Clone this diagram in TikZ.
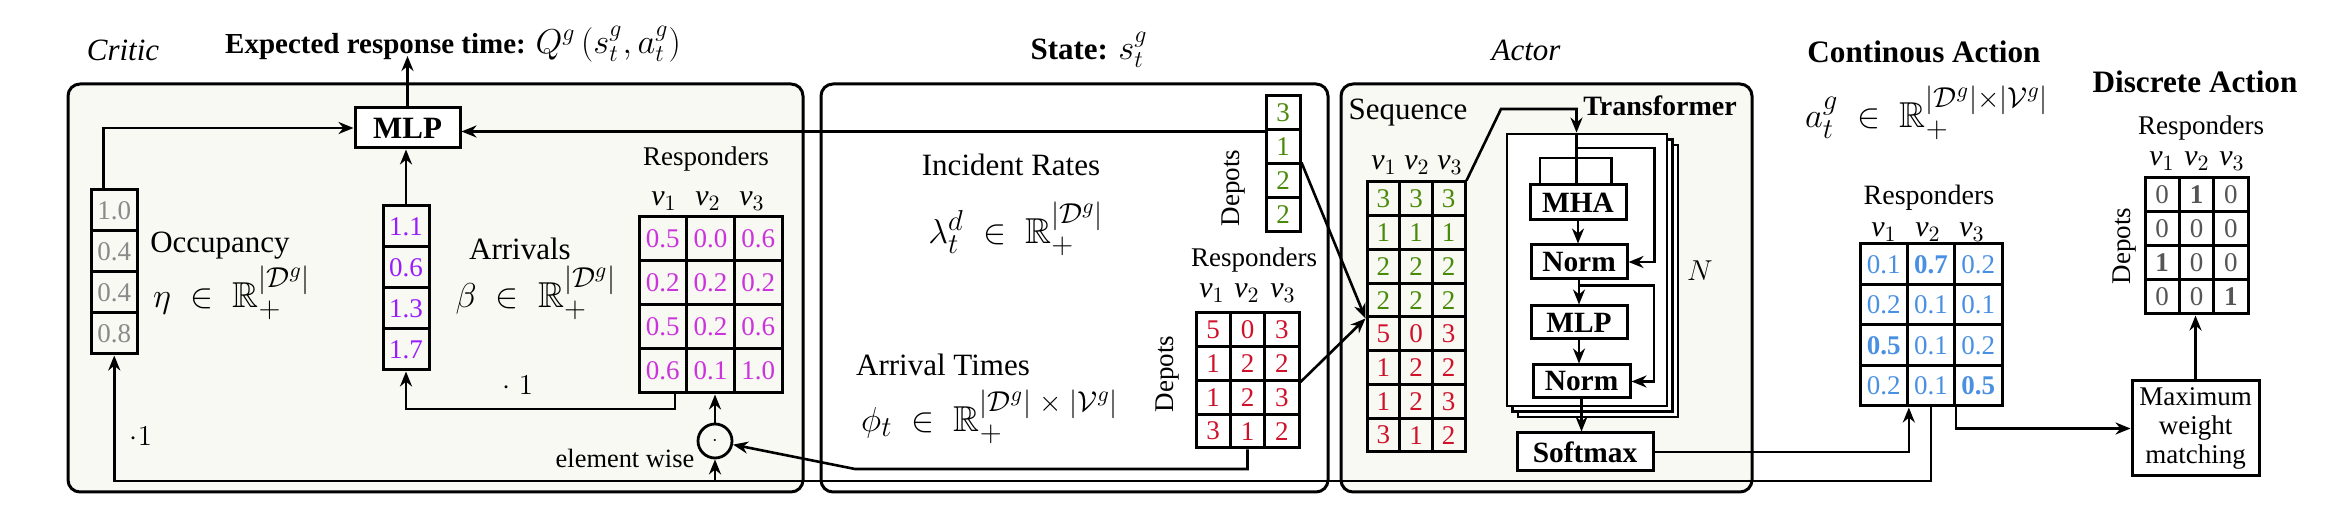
\documentclass[tikz,border=0pt]{standalone}
\usepackage{amsmath,amssymb}
\usepackage{fontspec}
\setmainfont{Liberation Serif}
\usetikzlibrary{arrows.meta,calc}
\DeclareMathSizes{16}{16}{13}{10}
\DeclareMathSizes{18}{18}{14.5}{11}
\definecolor{panelfill}{HTML}{F7F9F2}
\definecolor{occgray}{HTML}{8A8A8A}
\definecolor{arrpurple}{HTML}{9B1BFF}
\definecolor{resmag}{HTML}{CC33DD}
\definecolor{depgreen}{HTML}{4A8A0A}
\definecolor{atred}{HTML}{D0112B}
\definecolor{actblue}{HTML}{4A90E2}
\definecolor{discgray}{HTML}{555555}
\newcommand{\fs}[1]{\fontsize{#1}{#1}\selectfont}
% name, x0, y0, cell w, cell h, colour, rows
\newcommand{\gridmat}[7]{%
  \foreach \rowlist [count=\rr] in {#7} {
    \foreach \val [count=\cc] in \rowlist {
      \node[cell, minimum width={#4*0.5pt}, minimum height={#5*0.5pt}, text=#6]
        (#1-\rr-\cc) at ({#2+(\cc-0.5)*#4},{#3+(\rr-0.5)*#5}) {\val};
    }
  }%
}
\begin{document}
\begin{tikzpicture}[x=0.5pt,y=-0.5pt,
  panel/.style={draw, line width=1.5pt, rounded corners=6pt},
  cell/.style={draw, line width=1.5pt, inner sep=0pt, font=\fs{13.5}},
  box/.style={draw, line width=1.5pt, fill=white, inner sep=0pt, font=\bfseries\fs{14.7}},
  arr/.style={line width=1.3pt, -{Stealth[length=7.5pt,width=6pt]}},
  ln/.style={line width=1.3pt},
  lab/.style={font=\fs{15.5}},
  small/.style={font=\fs{13.5}},
  vlab/.style={font=\fs{15}},
  frm/.style={font=\fs{18}},
  ttl/.style={font=\bfseries\fs{15.6}}
  ]
\useasboundingbox (0,0) rectangle (2338,528);

% ---------------- panels
\draw[panel, fill=panelfill] (68,84) rectangle (803,492);
\draw[panel, fill=white] (821,84) rectangle (1328,492);
\draw[panel, fill=panelfill] (1341,84) rectangle (1752,492);

% ---------------- titles
\node[font=\itshape\fs{15.5}] (critictitle) at (123,50) {Critic};
\node[font=\fs{14.5}] (qtitle) at (453,44) {\textbf{Expected response time:} {\fs{16}$Q^g\left(s^g_t, a^g_t\right)$}};
\node[font=\fs{15.5}] (statetitle) at (1089,50) {\textbf{State:} {\fs{16}$s^g_t$}};
\node[font=\itshape\fs{15.5}] (actortitle) at (1526,50) {Actor};
\node[ttl] (conttitle) at (1924,52) {Continous Action};
\node[frm] (contf) at (1927,113) {$a^g_t \;\in\; \mathbb{R}_+^{|\mathcal{D}^g|\times|\mathcal{V}^g|}$};
\node[ttl] (disctitle) at (2195,82) {Discrete Action};

% ---------------- critic
\node[box, minimum width=52.5pt, minimum height=20pt, font=\bfseries\fs{15.5}] (mlp) at (407.5,128) {MLP};
\coordinate (qout) at (407.5,56);
\draw[arr] (mlp.north) -- (qout);

\gridmat{occ}{91.5}{190}{45.5}{41}{occgray}{{1.0},{0.4},{0.4},{0.8}}
\draw[arr] ([xshift=-5.5pt]occ-1-1.north) |- (mlp.west);
\node[lab] (occlab) at (220,246) {Occupancy};
\node[frm] (occf) at (232,293) {$\eta \;\in\; \mathbb{R}_+^{|\mathcal{D}^g|}$};

\gridmat{arv}{383}{206}{46}{41}{arrpurple}{{1.1},{0.6},{1.3},{1.7}}
\draw[arr] (arv-1-1.north) -- (arv-1-1.north |- mlp.south);
\node[lab] (arvlab) at (520,249) {Arrivals};
\node[frm] (arvf) at (536,293) {$\beta \;\in\; \mathbb{R}_+^{|\mathcal{D}^g|}$};

\gridmat{crm}{639}{217}{47.67}{44}{resmag}{{0.5,0.0,0.6},{0.2,0.2,0.2},{0.5,0.2,0.6},{0.6,0.1,1.0}}
\node[small] (crresp) at (706,159) {Responders};
\node[vlab] (crv1) at (664,201) {$\mathit{v}_1$};
\node[vlab] (crv2) at (708,201) {$\mathit{v}_2$};
\node[vlab] (crv3) at (752,201) {$\mathit{v}_3$};
\coordinate (crturn) at (406,409);
\draw[arr] ([xshift=6pt]crm-4-1.south) |- (crturn) -- (arv-4-1.south);
\node[small] (dotone) at (518,385) {$\cdot\;1$};

\node[draw, circle, line width=1.4pt, minimum size=17pt, inner sep=0pt, fill=panelfill] (odot) at (715,441) {$\cdot$};
\draw[arr] (odot.north) -- (odot.north |- crm-4-2.south);
\node[font=\fs{13.2}] (ew) at (625,458) {element wise};
\node[small] (dottwo) at (141,436) {$\cdot 1$};

% ---------------- state
\gridmat{dv}{1266}{96}{34}{34}{depgreen}{{3},{1},{2},{2}}
\node[small, rotate=90] (dvdep) at (1234,188) {Depots};
\draw[arr] (dv-1-1.south west) -- (dv-1-1.south west -| mlp.east);
\node[lab] (irlab) at (1011,165) {Incident Rates};
\node[frm] (irf) at (1016,229) {$\lambda^d_t \;\in\; \mathbb{R}_+^{|\mathcal{D}^g|}$};

\gridmat{am}{1196}{313}{34.33}{33.75}{atred}{{5,0,3},{1,2,2},{1,2,3},{3,1,2}}
\node[small] (amresp) at (1254,260) {Responders};
\node[vlab] (amv1) at (1212,293) {$\mathit{v}_1$};
\node[vlab] (amv2) at (1247,293) {$\mathit{v}_2$};
\node[vlab] (amv3) at (1283,293) {$\mathit{v}_3$};
\node[small, rotate=90] (amdep) at (1168,374) {Depots};
\node[lab] (atlab) at (943,365) {Arrival Times};
\node[frm] (atf) at (990,417) {$\phi_t \;\in\; \mathbb{R}_+^{|\mathcal{D}^g|\;\times\;|\mathcal{V}^g|}$};
\coordinate (amturn) at (855,469);
\draw[arr] (am-4-2.south) |- (amturn) -- (odot);

% ---------------- actor
\node[lab] (seqlab) at (1408,113) {Sequence};
\node[vlab] (sqv1) at (1384,165) {$\mathit{v}_1$};
\node[vlab] (sqv2) at (1417,165) {$\mathit{v}_2$};
\node[vlab] (sqv3) at (1450,165) {$\mathit{v}_3$};
\gridmat{seq}{1367}{182}{32.67}{33.75}{depgreen}{{3,3,3},{1,1,1},{2,2,2},{2,2,2}}
\gridmat{seqb}{1367}{317}{32.67}{33.75}{atred}{{5,0,3},{1,2,2},{1,2,3},{3,1,2}}
\draw[arr] (dv-3-1.north east) -- (seq-4-1.south west);
\draw[arr] (am-2-3.south east) -- (seq-4-1.south west);

\node[draw, line width=1.3pt, fill=white, minimum width=80pt, minimum height=136pt, inner sep=0pt] (tf3) at (1598,281) {};
\node[draw, line width=1.3pt, fill=white, minimum width=80pt, minimum height=136pt, inner sep=0pt] (tf2) at (1592.5,275.5) {};
\node[draw, line width=1.4pt, fill=white, minimum width=80pt, minimum height=136pt, inner sep=0pt] (tf) at (1587,270) {};
\node[font=\bfseries\fs{14}] (tftitle) at (1660,106) {Transformer};
\node[font=\fs{14}] (nlab) at (1700,271) {$N$};

\coordinate (tfk1) at (1501,109);
\coordinate (tfk2) at (1576.5,109);
\draw[arr] (seq-1-3.north east) -- (tfk1) -- (tfk2) -- (tfk2 |- tf.north);

\node[box, minimum width=48pt, minimum height=17.5pt] (mha) at (1578,202.5) {MHA};
\node[box, minimum width=48pt, minimum height=17pt] (norma) at (1579,262) {Norm};
\node[box, minimum width=48pt, minimum height=16.5pt] (mlpb) at (1579,322.5) {MLP};
\node[box, minimum width=48.5pt, minimum height=16.5pt] (normb) at (1581.5,381.5) {Norm};
\node[box, minimum width=68pt, minimum height=19pt] (softmax) at (1585,452) {Softmax};

\draw[ln] (tfk2 |- tf.north) -- (tfk2 |- mha.north);
\coordinate (bra) at (1540,158);
\coordinate (brb) at (1611.6,158);
\draw[ln] (bra |- mha.north) -- (bra) -- (brb) -- (brb |- mha.north);
\coordinate (resa) at (1576.5,148);
\coordinate (resb) at (1654.6,148);
\draw[arr] (resa) -- (resb) |- (norma.east);
\draw[arr] (mha.south) -- (mha.south |- norma.north);
\draw[arr] (norma.south) -- (norma.south |- mlpb.north);
\coordinate (resc) at (1579,285.5);
\coordinate (resd) at (1654,285.5);
\draw[arr] (resc) -- (resd) |- (normb.east);
\draw[arr] (mlpb.south) -- (mlpb.south |- normb.north);
\draw[arr] (normb.south) -- (normb.south |- softmax.north);

% ---------------- continuous action
\gridmat{cam}{1860}{244}{47.33}{40.5}{actblue}{{0.1,\textbf{0.7},0.2},{0.2,0.1,0.1},{\textbf{0.5},0.1,0.2},{0.2,0.1,\textbf{0.5}}}
\node[font=\fs{14}] (caresp) at (1929,198) {Responders};
\node[vlab] (cav1) at (1884,232) {$\mathit{v}_1$};
\node[vlab] (cav2) at (1928,232) {$\mathit{v}_2$};
\node[vlab] (cav3) at (1972,232) {$\mathit{v}_3$};
\draw[arr] (softmax.east) -| (cam-4-1.south east);

\node[draw, line width=1.5pt, minimum width=63.5pt, minimum height=47.5pt, inner sep=0pt, align=center, font=\fontsize{13.5}{14.3}\selectfont] (mwm) at (2195.5,428.5) {Maximum\\weight\\matching};
\draw[arr] (cam-4-2.south east) |- (mwm.west);

% bus from continuous action back to critic
\coordinate (bus) at (715,481);
\draw[arr] (cam-4-2.south) |- (bus) -| (occ-4-1.south);
\draw[arr] (bus) -- (odot.south);

% ---------------- discrete action
\gridmat{dm}{2145}{178}{34.33}{34}{discgray}{{0,\textbf{1},0},{0,0,0},{\textbf{1},0,0},{0,0,\textbf{1}}}
\node[small] (dmresp) at (2201,128) {Responders};
\node[vlab] (dmv1) at (2162,161) {$\mathit{v}_1$};
\node[vlab] (dmv2) at (2197,161) {$\mathit{v}_2$};
\node[vlab] (dmv3) at (2232,161) {$\mathit{v}_3$};
\node[small, rotate=90] (dmdep) at (2125,246) {Depots};
\draw[arr] (mwm.north) -- (mwm.north |- dm-4-2.south);
\end{tikzpicture}
\end{document}
